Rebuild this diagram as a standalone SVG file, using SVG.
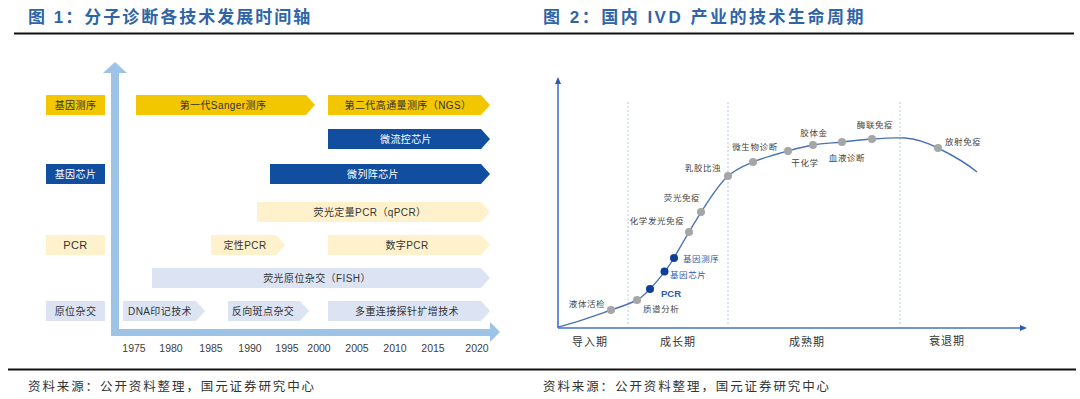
<svg xmlns="http://www.w3.org/2000/svg" width="1080" height="399" viewBox="0 0 1080 399">
<style>
.title{font-family:"Liberation Sans","Noto Sans CJK SC",sans-serif;font-weight:bold;font-size:17px;fill:#2F64A8;letter-spacing:2px}
.foot{font-family:"Noto Sans CJK SC",sans-serif;font-size:12.5px;fill:#333;letter-spacing:1.9px}
.lbl{font-family:"Liberation Sans","Noto Sans CJK SC",sans-serif;font-size:10px;fill:#333;text-anchor:middle;letter-spacing:0.4px}
.lblw{fill:#fff}
.yr{font-family:"Liberation Sans",sans-serif;font-size:10.5px;fill:#404040;text-anchor:middle}
.yel{fill:#F2C700}
.dbl{fill:#114EA0}
.lyl{fill:#FEF1CB}
.lav{fill:#DCE4F3}
.big{fill:#9DC3E6}
.rl{font-family:"Noto Sans CJK SC",sans-serif;font-size:8.5px;fill:#444;letter-spacing:0.6px}
.rb{fill:#2E5BA8}
.stg{font-family:"Noto Sans CJK SC",sans-serif;font-size:11px;fill:#333;text-anchor:middle;letter-spacing:1px}
.gd{fill:#A6A6A6}
.bd{fill:#0D3F9A}
.dot{stroke:#B4C7E7;stroke-width:1;stroke-dasharray:2 2;fill:none}
.ax{stroke:#4472C4;stroke-width:1.6;fill:none}
</style>

<!-- titles and frame lines -->
<g id="titles">
<text class="title" x="28" y="23">图 1：分子诊断各技术发展时间轴</text>
<text class="title" x="543" y="23" style="letter-spacing:2.5px">图 2：国内 IVD 产业的技术生命周期</text>
<rect x="14" y="32.5" width="1060" height="2" fill="#111"/>
<rect x="8" y="368.5" width="1068" height="2" fill="#111"/>
<text class="foot" x="28" y="391">资料来源：公开资料整理，国元证券研究中心</text>
<text class="foot" x="543" y="391">资料来源：公开资料整理，国元证券研究中心</text>
</g>

<!-- Figure 1 axes -->
<g id="fig1-axes">
<rect class="big" x="111" y="72" width="8" height="264"/>
<polygon class="big" points="103,73 127,73 115,62"/>
<rect class="big" x="111" y="329" width="380" height="7"/>
<polygon class="big" points="490,322 490,342 500,332"/>
</g>

<g id="fig1-years">
<text class="yr" x="134" y="352">1975</text>
<text class="yr" x="171" y="352">1980</text>
<text class="yr" x="211" y="352">1985</text>
<text class="yr" x="250" y="352">1990</text>
<text class="yr" x="287" y="352">1995</text>
<text class="yr" x="319" y="352">2000</text>
<text class="yr" x="357" y="352">2005</text>
<text class="yr" x="395" y="352">2010</text>
<text class="yr" x="433" y="352">2015</text>
<text class="yr" x="477" y="352">2020</text>
</g>

<!-- row labels -->
<g id="cat-seq"><rect class="yel" x="46" y="95" width="59" height="20"/><text class="lbl" x="75.5" y="108.5">基因测序</text></g>
<g id="cat-chip"><rect class="dbl" x="46" y="164" width="59" height="20"/><text class="lbl lblw" x="75.5" y="177.5">基因芯片</text></g>
<g id="cat-pcr"><rect class="lyl" x="46" y="235" width="59" height="20"/><text class="lbl" x="75.5" y="249" style="font-size:11px">PCR</text></g>
<g id="cat-ish"><rect class="lav" x="46" y="301" width="59" height="20"/><text class="lbl" x="75.5" y="314.5">原位杂交</text></g>

<!-- technology arrows -->
<g id="t-sanger"><polygon class="yel" points="136,95 306,95 315,105 306,115 136,115"/><text class="lbl" x="223" y="108.5">第一代Sanger测序</text></g>
<g id="t-ngs"><polygon class="yel" points="328,95 481,95 490,105 481,115 328,115"/><text class="lbl" x="408" y="108.5">第二代高通量测序（NGS）</text></g>
<g id="t-microfluid"><polygon class="dbl" points="328,129 481,129 490,139 481,149 328,149"/><text class="lbl lblw" x="406" y="142.5">微流控芯片</text></g>
<g id="t-microarray"><polygon class="dbl" points="270,164 481,164 490,174 481,184 270,184"/><text class="lbl lblw" x="373" y="177.5">微列阵芯片</text></g>
<g id="t-qpcr"><polygon class="lyl" points="257,202 481,202 490,212 481,222 257,222"/><text class="lbl" x="370" y="215.5">荧光定量PCR（qPCR）</text></g>
<g id="t-qualpcr"><polygon class="lyl" points="211,235 276,235 285,245 276,255 211,255"/><text class="lbl" x="245" y="248.5">定性PCR</text></g>
<g id="t-dpcr"><polygon class="lyl" points="328,235 481,235 490,245 481,255 328,255"/><text class="lbl" x="407" y="248.5">数字PCR</text></g>
<g id="t-fish"><polygon class="lav" points="152,268 481,268 490,278 481,288 152,288"/><text class="lbl" x="317" y="281.5">荧光原位杂交（FISH）</text></g>
<g id="t-dna"><polygon class="lav" points="123,301 196,301 205,311 196,321 123,321"/><text class="lbl" x="160" y="314.5">DNA印记技术</text></g>
<g id="t-rdb"><polygon class="lav" points="228,301 300,301 309,311 300,321 228,321"/><text class="lbl" x="263" y="314.5">反向斑点杂交</text></g>
<g id="t-mlpa"><polygon class="lav" points="328,301 481,301 490,311 481,321 328,321"/><text class="lbl" x="407" y="314.5">多重连接探针扩增技术</text></g>

<!-- Figure 2 -->
<g id="fig2-axes">
<line class="ax" x1="558" y1="328" x2="558" y2="82"/>
<polygon points="555,84 561,84 558,77" fill="#2F5BB0"/>
<line class="ax" x1="558" y1="328" x2="1022" y2="328"/>
<polygon points="1020,325 1020,331 1027,328" fill="#2F5BB0"/>
<line class="dot" x1="628" y1="102" x2="628" y2="326"/>
<line class="dot" x1="728" y1="102" x2="728" y2="326"/>
<line class="dot" x1="900" y1="102" x2="900" y2="326"/>
<text class="stg" x="590" y="346">导入期</text>
<text class="stg" x="678" y="346">成长期</text>
<text class="stg" x="807" y="346">成熟期</text>
<text class="stg" x="947" y="345">衰退期</text>
</g>

<g id="connectors">
<path d="M558,327 C575,323 598,314.5 611,310 C620,307 627,305 637,300 C647,295 667,270 674,258 C682,244 712,190 728,176 C737,168.3 743,166.2 753,162 C763,157.8 778,153.8 788,151 C798,148.2 804,146.5 813,145 C822,143.5 832.2,143 842,142 C851.8,141 862.3,139.7 872,139 C882,138.3 896,137.6 905,138 C918,139 928,143 938,148 C952,155 965,162 977,172" fill="none" stroke="#4A72B8" stroke-width="1.4"/>
</g>

<g id="n-liquid"><circle class="gd" cx="611" cy="310" r="4"/><text class="rl" x="587" y="307" text-anchor="middle">液体活检</text></g>
<g id="n-ms"><circle class="gd" cx="637" cy="300" r="4"/><text class="rl" x="643" y="312">质谱分析</text></g>
<g id="n-pcr"><circle class="bd" cx="650" cy="289" r="4"/><text x="661" y="296.5" font-family="Liberation Sans,sans-serif" font-weight="bold" font-size="9.5" fill="#2E5BA8">PCR</text></g>
<g id="n-chip"><circle class="bd" cx="664.5" cy="271.5" r="4"/><text class="rl rb" x="670" y="278">基因芯片</text></g>
<g id="n-seq"><circle class="bd" cx="674" cy="258" r="4"/><text class="rl rb" x="683" y="262">基因测序</text></g>
<g id="n-clia"><circle class="gd" cx="689" cy="232" r="4"/><text class="rl" x="657" y="224" text-anchor="middle">化学发光免疫</text></g>
<g id="n-fia"><circle class="gd" cx="701" cy="212" r="4"/><text class="rl" x="682" y="201" text-anchor="middle">荧光免疫</text></g>
<g id="n-latex"><circle class="gd" cx="728" cy="176" r="4"/><text class="rl" x="703" y="171" text-anchor="middle">乳胶比浊</text></g>
<g id="n-micro"><circle class="gd" cx="753" cy="162" r="4"/><text class="rl" x="755" y="150" text-anchor="middle">微生物诊断</text></g>
<g id="n-dry"><circle class="gd" cx="788" cy="151" r="4"/><text class="rl" x="805" y="166" text-anchor="middle">干化学</text></g>
<g id="n-gold"><circle class="gd" cx="813" cy="145" r="4"/><text class="rl" x="814" y="136" text-anchor="middle">胶体金</text></g>
<g id="n-blood"><circle class="gd" cx="842" cy="142" r="4"/><text class="rl" x="847" y="161" text-anchor="middle">血液诊断</text></g>
<g id="n-elisa"><circle class="gd" cx="872" cy="139" r="4"/><text class="rl" x="875" y="128" text-anchor="middle">酶联免疫</text></g>
<g id="n-ria"><circle class="gd" cx="938" cy="148" r="4"/><text class="rl" x="945" y="145">放射免疫</text></g>
</svg>
